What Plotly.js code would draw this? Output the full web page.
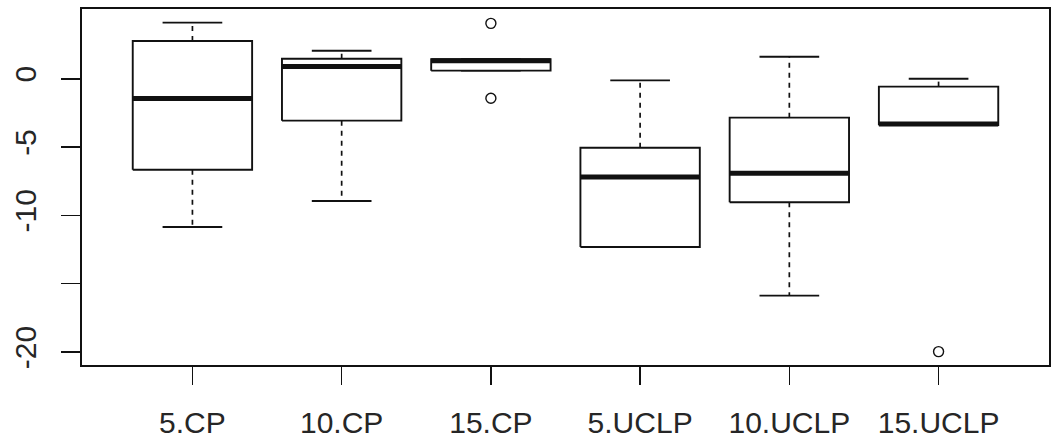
<!DOCTYPE html>
<html>
<head>
<meta charset="utf-8">
<script src="https://cdn.plot.ly/plotly-3.0.1.min.js"></script>
<style>html,body{margin:0;padding:0;background:#fff;}#chart{width:1051px;height:444px;}</style>
</head>
<body>
<div id="chart"></div>
<script>
const categories = ['5.CP', '10.CP', '15.CP', '5.UCLP', '10.UCLP', '15.UCLP'];
const upperWhisker = [4.1, 2.05, 1.42, -0.12, 1.61, 0.0];
const q3 = [2.76, 1.46, 1.42, -5.05, -2.85, -0.58];
const median = [-1.45, 0.9, 1.32, -7.19, -6.92, -3.32];
const q1 = [-6.66, -3.07, 0.59, -12.31, -9.04, -3.4];
const lowerWhisker = [-10.85, -8.95, 0.59, -12.31, -15.87, -3.4];
const outlierGroup = ['15.CP', '15.CP', '15.UCLP'];
const outlierValue = [4.05, -1.43, -19.97];
const yTickVals = [-20, -15, -10, -5, 0];
const yTickText = ['-20', '', '-10', '-5', '0'];

const BOXW = 0.4, CAPW = 0.2;
const pos = categories.map((c, i) => i + 1);
const black = '#111';

const boxX = [], boxY = [], medX = [], medY = [], whX = [], whY = [], capX = [], capY = [];
pos.forEach((p, i) => {
  boxX.push(p - BOXW, p + BOXW, p + BOXW, p - BOXW, p - BOXW, null);
  boxY.push(q1[i], q1[i], q3[i], q3[i], q1[i], null);
  medX.push(p - BOXW, p + BOXW, null);
  medY.push(median[i], median[i], null);
  if (upperWhisker[i] > q3[i]) { whX.push(p, p, null); whY.push(q3[i], upperWhisker[i], null); }
  if (lowerWhisker[i] < q1[i]) { whX.push(p, p, null); whY.push(q1[i], lowerWhisker[i], null); }
  capX.push(p - CAPW, p + CAPW, null, p - CAPW, p + CAPW, null);
  capY.push(upperWhisker[i], upperWhisker[i], null, lowerWhisker[i], lowerWhisker[i], null);
});
const outX = outlierGroup.map(g => categories.indexOf(g) + 1);

const traces = [
  {x: whX, y: whY, mode: 'lines', line: {color: black, width: 1.7, dash: '5px,5px'}, hoverinfo: 'skip'},
  {x: capX, y: capY, mode: 'lines', line: {color: black, width: 1.9}, hoverinfo: 'skip'},
  {x: boxX, y: boxY, mode: 'lines', fill: 'toself', fillcolor: '#fff', line: {color: black, width: 1.9}, hoverinfo: 'skip'},
  {x: medX, y: medY, mode: 'lines', line: {color: black, width: 5}, hoverinfo: 'skip'},
  {x: outX, y: outlierValue, mode: 'markers', marker: {symbol: 'circle-open', size: 10, color: black, line: {width: 1.4}}, hoverinfo: 'skip'}
];

const layout = {
  width: 1051, height: 444,
  margin: {l: 82, r: 2, t: 9, b: 79},
  showlegend: false,
  paper_bgcolor: '#fff', plot_bgcolor: '#fff',
  font: {family: 'Liberation Sans, Arial, sans-serif', size: 30, color: '#262626'},
  xaxis: {
    range: [0.26, 6.74], tickvals: pos, ticktext: categories,
    showgrid: false, zeroline: false, showline: true, mirror: true,
    linecolor: black, linewidth: 2, ticks: 'outside', ticklen: 18, tickwidth: 1.6, tickcolor: black,
    ticklabelstandoff: 12
  },
  yaxis: {
    range: [-20.95, 5.1], tickvals: yTickVals, ticktext: yTickText, tickangle: -90,
    showgrid: false, zeroline: false, showline: true, mirror: true,
    linecolor: black, linewidth: 2, ticks: 'outside', ticklen: 19, tickwidth: 1.6, tickcolor: black,
    ticklabelstandoff: 13
  }
};

Plotly.newPlot('chart', traces, layout, {staticPlot: true, displayModeBar: false});
</script>
</body>
</html>
